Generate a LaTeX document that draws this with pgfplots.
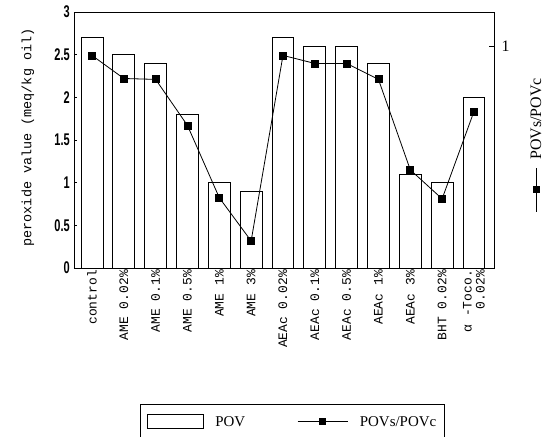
\documentclass[border=0pt]{standalone}
\usepackage{pgfplots}
\pgfplotsset{compat=1.18}
\usepackage{fontspec}
\setmainfont{Liberation Serif}
\setmonofont{Liberation Mono}
\setsansfont{Liberation Sans}
\usepackage{graphicx}

\pgfplotstableread{
x pov ratio
0 2.7 0.959
1 2.5 0.855
2 2.4 0.851
3 1.8 0.643
4 1.0 0.317
5 0.9 0.122
6 2.7 0.959
7 2.6 0.923
8 2.6 0.923
9 2.4 0.851
10 1.1 0.443
11 1.0 0.312
12 2.0 0.706
}\datatable

\begin{document}
\begin{tikzpicture}
\path[use as bounding box] (-74bp,-169bp) rectangle (473bp,268bp);
\begin{axis}[
  scale only axis, width=420bp, height=256bp,
  xmin=-0.565, xmax=12.63, ymin=0, ymax=3,
  ytick={0,0.5,1,1.5,2,2.5,3},
  yticklabels={0,0.5,1,1.5,2,2.5,3},
  yticklabel style={font=\sffamily\bfseries\fontsize{17}{17}\selectfont, xscale=0.65, anchor=east, xshift=-3bp},
  ytick pos=left, xtick pos=bottom,
  xtick={0,...,12},
  xticklabels={control, AME 0.02\%, AME 0.1\%, AME 0.5\%, AME 1\%, AME 3\%, AEAc 0.02\%, AEAc 0.1\%, AEAc 0.5\%, AEAc 1\%, AEAc 3\%, BHT 0.02\%, {α -Toco.\\0.02\%}},
  xticklabel style={rotate=90, anchor=east, align=right, font=\ttfamily\fontsize{13}{13}\selectfont, inner sep=2bp},
  major tick length=3bp,
  tick style={black, line width=0.6pt},
  axis line style={line width=1pt},
  ylabel={peroxide value (meq/kg oil)},
  ylabel style={font=\ttfamily\fontsize{13.5}{13.5}\selectfont, at={(axis description cs:-0.11,0.51)}, anchor=center},
]
\addplot[ybar, bar width=0.69, fill=white, draw=black, line width=0.9pt, bar shift=0pt] table[x=x, y=pov] {\datatable};
\end{axis}
\begin{axis}[
  scale only axis, width=420bp, height=256bp,
  xmin=-0.565, xmax=12.63, ymin=0, ymax=1.155,
  axis y line*=right, axis x line=none,
  ytick={1}, yticklabels={1},
  yticklabel style={font=\fontsize{16}{16}\selectfont, xshift=4bp},
  major tick length=5bp,
  tick style={black, line width=0.6pt},
  axis line style={line width=1pt},
  ylabel={{\tikz[baseline=-0.6ex]{\draw[line width=0.7pt] (0,0)--(44bp,0); \fill (22bp-3.5bp,-3.5bp) rectangle (22bp+3.5bp,3.5bp);}}\ \ POVs/POVc},
  ylabel style={font=\fontsize{16}{16}\selectfont, at={(axis description cs:1.1,0.48)}, anchor=center},
  legend columns=2,
  legend style={at={(axis description cs:0.52,-0.53)}, anchor=north, draw=black, line width=0.9pt,
    font=\fontsize{15}{15}\selectfont,
    /tikz/every odd column/.append style={column sep=10bp},
    /tikz/every even column/.append style={column sep=50bp},
    inner xsep=6bp, inner ysep=10bp},
]
\addlegendimage{legend image code/.code={\draw[black, line width=0.8pt, fill=white] (0bp,-7bp) rectangle (56bp,7bp);}}
\addlegendentry{POV}
\addplot[black, line width=0.8pt, mark=square*, mark size=3.5bp,
  legend image code/.code={\draw[black, line width=0.7pt] (0bp,0bp)--(50bp,0bp); \fill (25bp-3bp,-3bp) rectangle (25bp+3bp,3bp);}]
  table[x=x, y=ratio] {\datatable};
\addlegendentry{POVs/POVc}
\end{axis}
\end{tikzpicture}
\end{document}
